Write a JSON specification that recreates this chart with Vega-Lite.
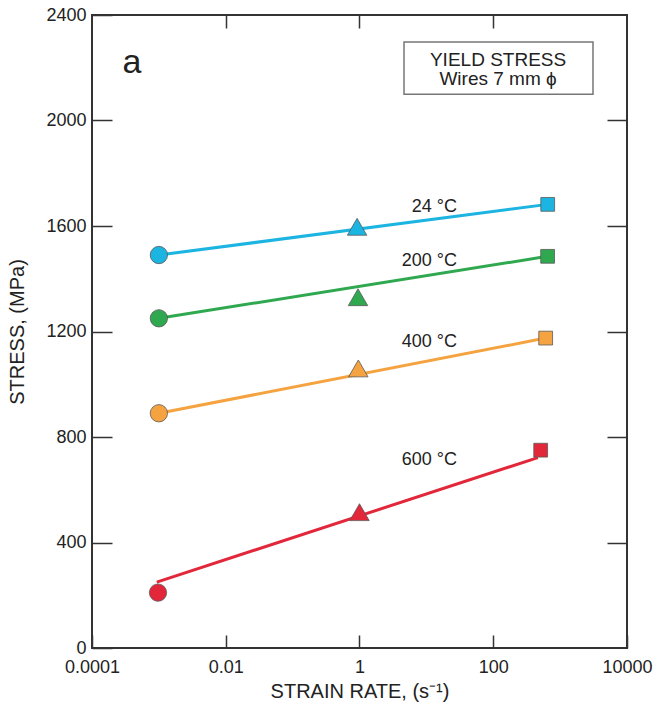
{
  "$schema": "https://vega.github.io/schema/vega-lite/v6.json",
  "width": 535,
  "height": 633,
  "autosize": {"type": "none"},
  "padding": {"left": 92, "top": 15, "right": 29, "bottom": 61},
  "config": {
    "view": {"stroke": "#333333", "strokeWidth": 2},
    "font": "Liberation Sans",
    "axis": {
      "grid": false,
      "domain": false,
      "tickColor": "#333333",
      "tickWidth": 1.5,
      "labelFont": "Liberation Sans",
      "labelFontSize": 18,
      "labelColor": "#222222",
      "titleFont": "Liberation Sans",
      "titleFontSize": 20,
      "titleFontWeight": "normal",
      "titleColor": "#222222"
    }
  },
  "datasets": {
    "lines": [
      {"series": "24 °C", "rate": 0.001, "stress": 1490},
      {"series": "24 °C", "rate": 652, "stress": 1682},
      {"series": "200 °C", "rate": 0.001, "stress": 1250},
      {"series": "200 °C", "rate": 650, "stress": 1485},
      {"series": "400 °C", "rate": 0.001, "stress": 890},
      {"series": "400 °C", "rate": 608, "stress": 1175},
      {"series": "600 °C", "rate": 0.00093, "stress": 250},
      {"series": "600 °C", "rate": 465, "stress": 722}
    ],
    "points": [
      {"series": "24 °C", "rate": 0.001, "stress": 1490, "shape": "circle"},
      {"series": "24 °C", "rate": 0.92, "stress": 1597, "shape": "triangle-up"},
      {"series": "24 °C", "rate": 652, "stress": 1682, "shape": "square"},
      {"series": "200 °C", "rate": 0.001, "stress": 1250, "shape": "circle"},
      {"series": "200 °C", "rate": 0.95, "stress": 1330, "shape": "triangle-up"},
      {"series": "200 °C", "rate": 650, "stress": 1485, "shape": "square"},
      {"series": "400 °C", "rate": 0.001, "stress": 890, "shape": "circle"},
      {"series": "400 °C", "rate": 0.96, "stress": 1060, "shape": "triangle-up"},
      {"series": "400 °C", "rate": 608, "stress": 1175, "shape": "square"},
      {"series": "600 °C", "rate": 0.00097, "stress": 210, "shape": "circle"},
      {"series": "600 °C", "rate": 1.0, "stress": 515, "shape": "triangle-up"},
      {"series": "600 °C", "rate": 512, "stress": 750, "shape": "square"}
    ],
    "labels": [
      {"label": "24 °C", "rate": 28.7, "stress": 1653},
      {"label": "200 °C", "rate": 28.7, "stress": 1448},
      {"label": "400 °C", "rate": 28.7, "stress": 1142},
      {"label": "600 °C", "rate": 28.7, "stress": 694}
    ],
    "box": [
      {"x1": 4.63, "x2": 3100, "y1": 2100, "y2": 2298}
    ],
    "boxtext": [
      {"text": "YIELD STRESS", "rate": 118, "stress": 2207},
      {"text": "Wires 7 mm ϕ", "rate": 118, "stress": 2135}
    ],
    "panel": [
      {"text": "a", "rate": 0.000396, "stress": 2180}
    ]
  },
  "layer": [
    {
      "data": {"name": "lines"},
      "mark": {"type": "line", "strokeWidth": 3},
      "encoding": {
        "x": {
          "field": "rate", "type": "quantitative",
          "scale": {"type": "log", "domain": [0.0001, 10000]},
          "axis": {
            "orient": "bottom",
            "values": [0.0001, 0.01, 1, 100, 10000],
            "format": "~g",
            "labelFlush": false,
            "tickSize": -13,
            "labelPadding": 23,
            "title": "STRAIN RATE, (s⁻¹)",
            "titleY": 49,
            "titleBaseline": "alphabetic"
          }
        },
        "y": {
          "field": "stress", "type": "quantitative",
          "scale": {"domain": [0, 2400], "nice": false, "zero": false},
          "axis": {
            "orient": "left",
            "values": [0, 400, 800, 1200, 1600, 2000, 2400],
            "format": "d",
            "tickSize": -20,
            "labelPadding": 26,
            "title": "STRESS, (MPa)",
            "titleX": -75,
            "titleY": 316.5,
            "titleBaseline": "middle"
          }
        },
        "color": {
          "field": "series", "type": "nominal",
          "scale": {"domain": ["24 °C", "200 °C", "400 °C", "600 °C"], "range": ["#1cb4e0", "#2fa84f", "#f5a340", "#e2273a"]},
          "legend": null
        },
        "detail": {"field": "series"}
      }
    },
    {
      "data": {"name": "points"},
      "mark": {"type": "point", "filled": true, "opacity": 1, "stroke": "#5a5a5a", "strokeWidth": 0.8},
      "encoding": {
        "x": {
          "field": "rate", "type": "quantitative",
          "scale": {"type": "log", "domain": [0.0001, 10000]},
          "axis": {"orient": "top", "values": [0.01, 1, 100], "labels": false, "tickSize": -13, "title": null}
        },
        "y": {
          "field": "stress", "type": "quantitative",
          "scale": {"domain": [0, 2400], "nice": false, "zero": false},
          "axis": {"orient": "right", "values": [400, 800, 1200, 1600, 2000], "labels": false, "tickSize": -20, "title": null}
        },
        "color": {
          "field": "series", "type": "nominal",
          "scale": {"domain": ["24 °C", "200 °C", "400 °C", "600 °C"], "range": ["#1cb4e0", "#2fa84f", "#f5a340", "#e2273a"]},
          "legend": null
        },
        "shape": {"field": "shape", "type": "nominal", "scale": null},
        "size": {
          "field": "shape", "type": "ordinal",
          "scale": {"type": "ordinal", "domain": ["circle", "square", "triangle-up"], "range": [300, 190, 380]},
          "legend": null
        }
      }
    },
    {
      "data": {"name": "labels"},
      "mark": {"type": "text", "align": "right", "baseline": "alphabetic", "fontSize": 18, "color": "#222222", "font": "Liberation Sans"},
      "encoding": {
        "x": {"field": "rate", "type": "quantitative", "scale": {"type": "log", "domain": [0.0001, 10000]}, "axis": null},
        "y": {"field": "stress", "type": "quantitative", "scale": {"domain": [0, 2400], "nice": false, "zero": false}, "axis": null},
        "text": {"field": "label"}
      }
    },
    {
      "data": {"name": "box"},
      "mark": {"type": "rect", "fill": "white", "stroke": "#777777", "strokeWidth": 1.5},
      "encoding": {
        "x": {"field": "x1", "type": "quantitative", "scale": {"type": "log", "domain": [0.0001, 10000]}, "axis": null},
        "x2": {"field": "x2"},
        "y": {"field": "y1", "type": "quantitative", "scale": {"domain": [0, 2400], "nice": false, "zero": false}, "axis": null},
        "y2": {"field": "y2"}
      }
    },
    {
      "data": {"name": "boxtext"},
      "mark": {"type": "text", "align": "center", "baseline": "alphabetic", "fontSize": 19, "color": "#222222", "font": "Liberation Sans"},
      "encoding": {
        "x": {"field": "rate", "type": "quantitative", "scale": {"type": "log", "domain": [0.0001, 10000]}, "axis": null},
        "y": {"field": "stress", "type": "quantitative", "scale": {"domain": [0, 2400], "nice": false, "zero": false}, "axis": null},
        "text": {"field": "text"}
      }
    },
    {
      "data": {"name": "panel"},
      "mark": {"type": "text", "align": "center", "baseline": "alphabetic", "fontSize": 34, "color": "#222222", "font": "Liberation Sans"},
      "encoding": {
        "x": {"field": "rate", "type": "quantitative", "scale": {"type": "log", "domain": [0.0001, 10000]}, "axis": null},
        "y": {"field": "stress", "type": "quantitative", "scale": {"domain": [0, 2400], "nice": false, "zero": false}, "axis": null},
        "text": {"field": "text"}
      }
    }
  ],
  "resolve": {"axis": {"x": "independent", "y": "independent"}}
}
